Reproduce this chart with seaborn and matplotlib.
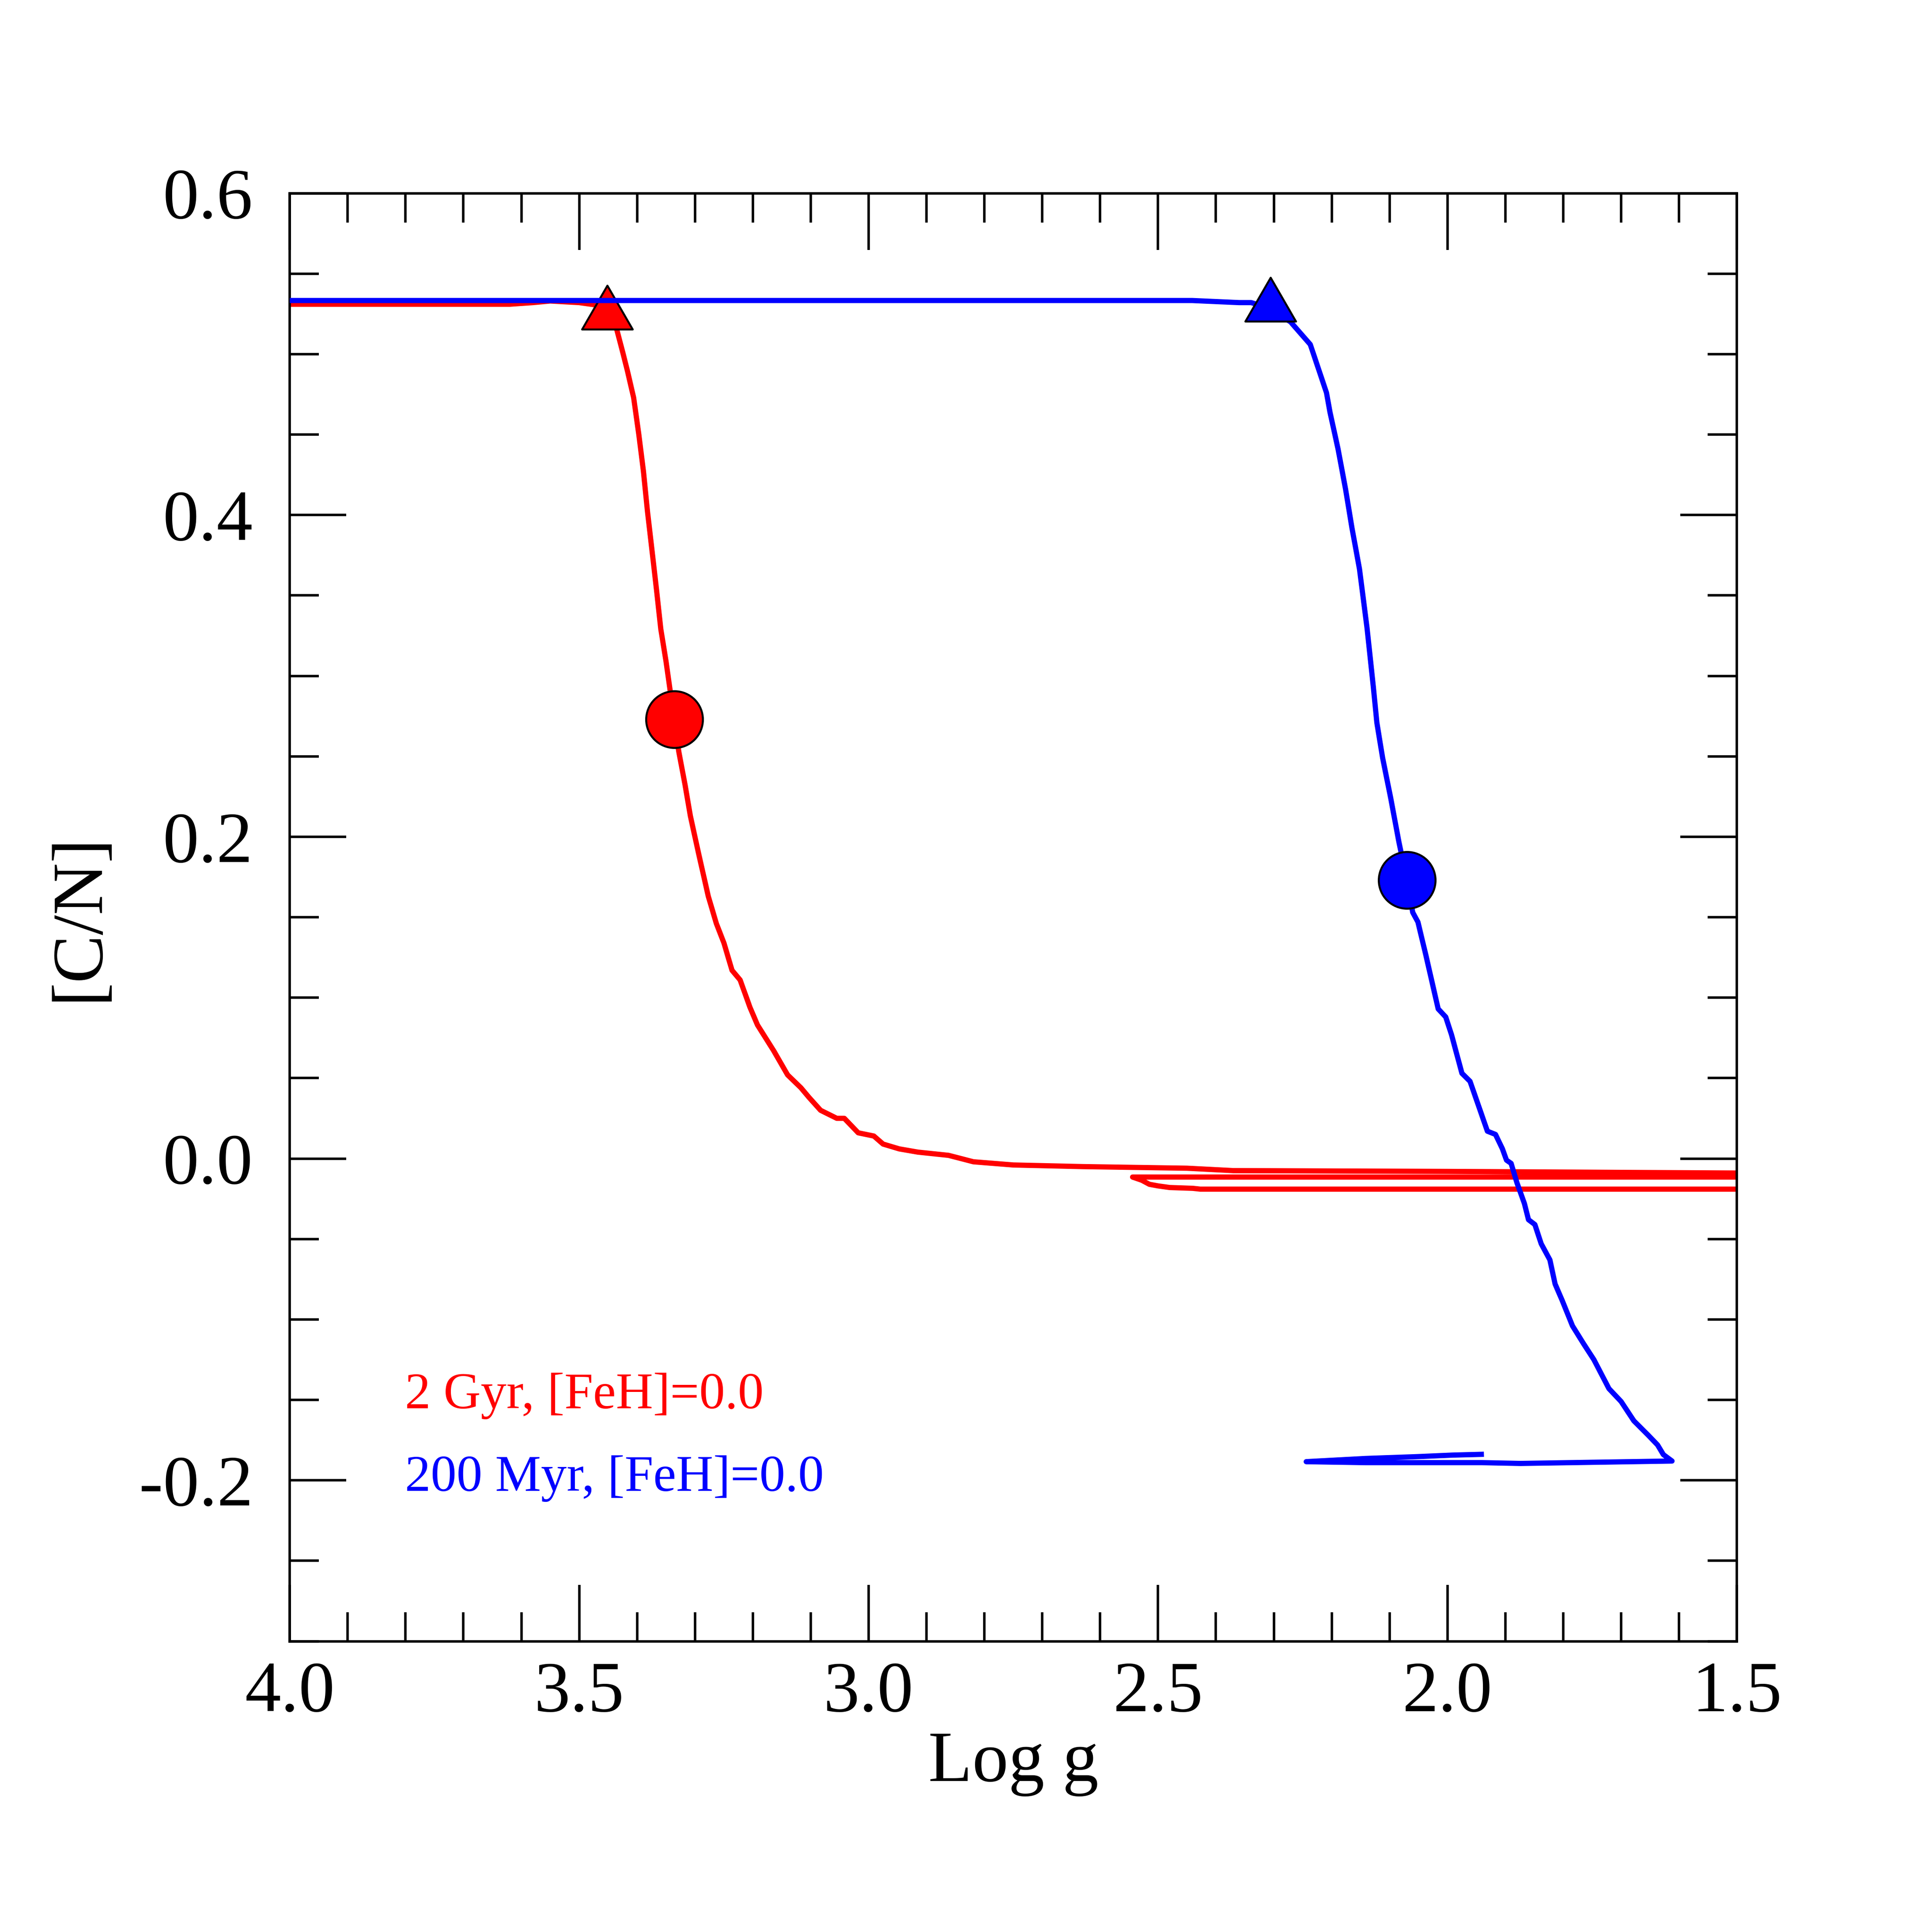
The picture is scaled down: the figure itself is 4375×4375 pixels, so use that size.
import numpy as np
import pandas as pd
import matplotlib
matplotlib.use("Agg")
import matplotlib.pyplot as plt
from matplotlib.path import Path
from matplotlib.ticker import MultipleLocator, FormatStrFormatter
import seaborn as sns

# 2 Gyr track (RGB, then return branch and clump hook)
logg_2gyr = [4.0, 3.8, 3.62, 3.58, 3.55, 3.50, 3.46, 3.44, 3.424, 3.417, 3.406, 3.397,
             3.389, 3.382, 3.372, 3.366, 3.359, 3.350, 3.341, 3.336, 3.328, 3.317, 3.308,
             3.294, 3.277, 3.263, 3.250, 3.236, 3.222, 3.205, 3.192, 3.164, 3.140, 3.117,
             3.103, 3.083, 3.055, 3.042, 3.018, 2.991, 2.975, 2.947, 2.915, 2.862, 2.819,
             2.75, 2.63, 2.45, 2.37, 2.0, 1.5, 1.4,
             1.4, 2.0, 2.544, 2.528, 2.515, 2.500, 2.480, 2.440, 2.427, 2.0, 1.4]
cn_2gyr = [0.531, 0.531, 0.531, 0.532, 0.533, 0.532, 0.530, 0.522, 0.500, 0.490, 0.473, 0.450,
           0.427, 0.402, 0.371, 0.352, 0.329, 0.309, 0.286, 0.273, 0.253, 0.232, 0.213,
           0.190, 0.163, 0.146, 0.134, 0.117, 0.111, 0.094, 0.083, 0.067, 0.052, 0.044,
           0.038, 0.030, 0.025, 0.025, 0.016, 0.014, 0.009, 0.006, 0.004, 0.002, -0.002,
           -0.004, -0.005, -0.006, -0.0075, -0.008, -0.009, -0.009,
           -0.0115, -0.0115, -0.0115, -0.0135, -0.016, -0.017, -0.018, -0.0185, -0.019, -0.019, -0.019]

# 200 Myr track
logg_200myr = [4.0, 2.441, 2.360, 2.339, 2.330, 2.306, 2.271, 2.237, 2.223, 2.209, 2.203,
               2.189, 2.176, 2.165, 2.152, 2.139, 2.128, 2.122, 2.112, 2.098, 2.084, 2.070,
               2.060, 2.051, 2.037, 2.023, 2.016, 2.003, 1.993, 1.975, 1.961, 1.931, 1.917,
               1.905, 1.898, 1.890, 1.880, 1.867, 1.860, 1.849, 1.838, 1.823, 1.814, 1.802,
               1.784, 1.765, 1.747, 1.721, 1.700, 1.678, 1.653, 1.637, 1.627, 1.612,
               1.874, 1.941, 2.141, 2.244, 2.141, 2.054, 1.990, 1.937]
cn_200myr = [0.5333, 0.5333, 0.532, 0.532, 0.531, 0.528, 0.520, 0.506, 0.491, 0.476, 0.464,
             0.441, 0.416, 0.392, 0.3665, 0.330, 0.293, 0.271, 0.249, 0.224, 0.197, 0.173,
             0.153, 0.147, 0.126, 0.104, 0.093, 0.088, 0.077, 0.053, 0.048, 0.017, 0.015,
             0.006, -0.001, -0.003, -0.015, -0.028, -0.038, -0.041, -0.053, -0.063, -0.078, -0.088,
             -0.104, -0.115, -0.125, -0.143, -0.151, -0.163, -0.172, -0.178, -0.184, -0.188,
             -0.1895, -0.189, -0.189, -0.1884, -0.1864, -0.1853, -0.1843, -0.1838]

# marker points
tri_2gyr = ([3.452], [0.529])
dot_2gyr = ([3.336], [0.273])
tri_200myr = ([2.306], [0.534])
dot_200myr = ([2.070], [0.173])

labels = ["2 Gyr, [FeH]=0.0", "200 Myr, [FeH]=0.0"]

sns.set_style("ticks")
plt.rcParams['font.family'] = ['Liberation Serif', 'DejaVu Serif']
plt.rcParams['axes.unicode_minus'] = False
for key in ['text.color', 'axes.labelcolor', 'xtick.color', 'ytick.color', 'axes.edgecolor']:
    plt.rcParams[key] = 'black'

fig = plt.figure(figsize=(17.5, 17.5), dpi=250)
ax = fig.add_axes([0.150, 0.1505, 0.749, 0.7495])

tri = Path([(0, 0.866), (-1, -0.866), (1, -0.866), (0, 0.866)], closed=True)

red = pd.DataFrame({"logg": logg_2gyr, "cn": cn_2gyr})
blue = pd.DataFrame({"logg": logg_200myr, "cn": cn_200myr})

sns.lineplot(data=red, x="logg", y="cn", sort=False, estimator=None, color="#ff0000",
             lw=3.4, ax=ax, zorder=2, solid_capstyle="butt")
sns.scatterplot(x=tri_2gyr[0], y=tri_2gyr[1], marker=tri, s=33**2, color="#ff0000",
                edgecolor="black", linewidth=1.3, ax=ax, zorder=3)
sns.scatterplot(x=dot_2gyr[0], y=dot_2gyr[1], marker="o", s=37**2, color="#ff0000",
                edgecolor="black", linewidth=1.3, ax=ax, zorder=3)

sns.lineplot(data=blue, x="logg", y="cn", sort=False, estimator=None, color="#0000ff",
             lw=3.4, ax=ax, zorder=4, solid_capstyle="butt")
sns.scatterplot(x=tri_200myr[0], y=tri_200myr[1], marker=tri, s=33**2, color="#0000ff",
                edgecolor="black", linewidth=1.3, ax=ax, zorder=5)
sns.scatterplot(x=dot_200myr[0], y=dot_200myr[1], marker="o", s=37**2, color="#0000ff",
                edgecolor="black", linewidth=1.3, ax=ax, zorder=5)

ax.set_xlim(4.0, 1.5)
ax.set_ylim(-0.3, 0.6)

ax.xaxis.set_major_locator(MultipleLocator(0.5))
ax.xaxis.set_minor_locator(MultipleLocator(0.1))
ax.yaxis.set_major_locator(MultipleLocator(0.2))
ax.yaxis.set_minor_locator(MultipleLocator(0.05))
ax.xaxis.set_major_formatter(FormatStrFormatter('%.1f'))
ax.yaxis.set_major_formatter(FormatStrFormatter('%.1f'))

ax.tick_params(which='both', direction='in', top=True, right=True, color='black')
ax.tick_params(which='major', length=37, width=1.6, labelsize=47, labelcolor='black')
ax.tick_params(which='minor', length=19, width=1.6)
ax.tick_params(axis='x', which='major', pad=13)
ax.tick_params(axis='y', which='major', pad=24)
for sp in ax.spines.values():
    sp.set_linewidth(1.6)
    sp.set_color('black')

ax.set_xlabel("Log g", fontsize=47, color='black')
ax.set_ylabel("[C/N]", fontsize=47, color='black')
ax.xaxis.set_label_coords(0.5, -0.062)
ax.yaxis.set_label_coords(-0.1226, 0.5)

ax.text(0.0796, 0.161, labels[0], color="#ff0000", fontsize=33.6, transform=ax.transAxes, va='baseline')
ax.text(0.0796, 0.104, labels[1], color="#0000ff", fontsize=33.6, transform=ax.transAxes, va='baseline')

fig.savefig("out.png", dpi=250, facecolor="white")
